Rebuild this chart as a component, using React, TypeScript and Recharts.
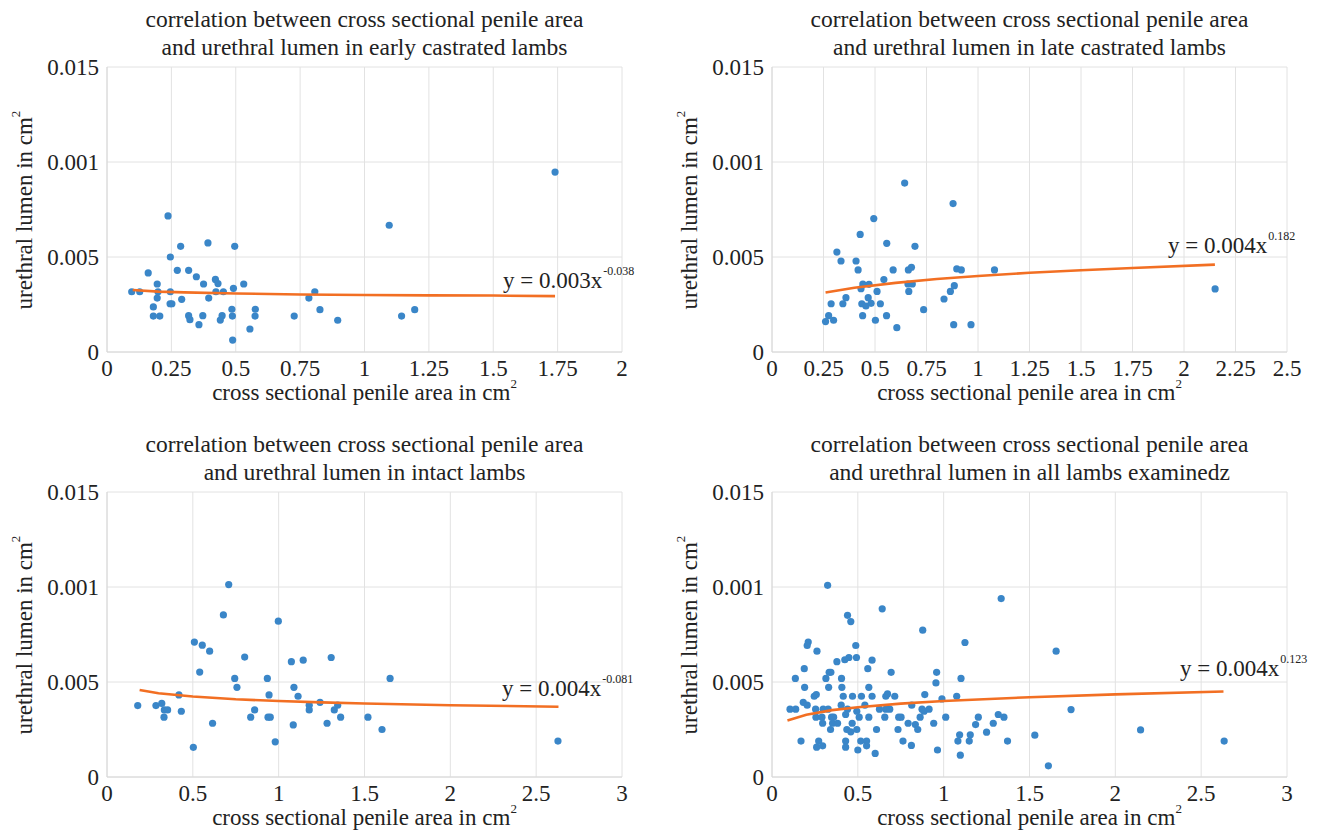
import { ScatterChart, Scatter, XAxis, YAxis, CartesianGrid } from "recharts";

const FONT = "'Liberation Serif', 'Times New Roman', Times, serif";
const DOT = "#3a86c8";
const TREND = "#f26f23";
const GRID = "#e2e2e2";

const yTicks = [0, 0.005, 0.01, 0.015];
const yTickLabels = ["0", "0.005", "0.001", "0.015"];
const xTicks2 = [0, 0.25, 0.5, 0.75, 1, 1.25, 1.5, 1.75, 2];
const xTicks25 = [0, 0.25, 0.5, 0.75, 1, 1.25, 1.5, 1.75, 2, 2.25, 2.5];
const xTicks3 = [0, 0.5, 1, 1.5, 2, 2.5, 3];

// [cross sectional penile area, urethral lumen]
const earlyCastrated: [number, number][] = [
  [0.237, 0.00716], [0.286, 0.00556], [0.392, 0.00574], [0.496, 0.00556], [0.246, 0.005],
  [0.16, 0.00416], [0.273, 0.0043], [0.317, 0.0043], [0.347, 0.00396], [0.421, 0.00382],
  [0.431, 0.0036], [0.375, 0.00358], [0.195, 0.00358], [0.531, 0.00358], [0.096, 0.00317],
  [0.127, 0.00317], [0.198, 0.00317], [0.246, 0.00317], [0.423, 0.00317], [0.452, 0.00317],
  [0.491, 0.00335], [0.195, 0.00284], [0.29, 0.00277], [0.395, 0.00284], [0.245, 0.00254],
  [0.252, 0.00254], [0.18, 0.00237], [0.485, 0.00225], [0.576, 0.00225], [0.18, 0.00189],
  [0.205, 0.00189], [0.317, 0.00191], [0.322, 0.0017], [0.372, 0.00191], [0.447, 0.00191],
  [0.44, 0.00168], [0.487, 0.00189], [0.575, 0.00189], [0.357, 0.00144], [0.555, 0.00121],
  [0.488, 0.00063], [1.096, 0.00667], [0.807, 0.00317], [0.784, 0.00284], [0.827, 0.00223],
  [0.727, 0.00189], [0.896, 0.00167], [1.144, 0.00189], [1.195, 0.00223], [1.74, 0.00947],
];
const earlyTrend: [number, number][] = [
  [0.1, 0.00326], [0.2, 0.00318], [0.3, 0.00314], [0.5, 0.00308], [0.75, 0.00303],
  [1, 0.003], [1.25, 0.00298], [1.5, 0.00297], [1.74, 0.00294],
];

const lateCastrated: [number, number][] = [
  [0.644, 0.00889], [0.494, 0.00702], [0.428, 0.00619], [0.557, 0.00572], [0.694, 0.00556],
  [0.315, 0.00526], [0.335, 0.00479], [0.408, 0.00479], [0.418, 0.00432], [0.588, 0.00432],
  [0.662, 0.00432], [0.677, 0.00446], [0.543, 0.00381], [0.441, 0.00358], [0.471, 0.00356],
  [0.432, 0.00333], [0.66, 0.00358], [0.681, 0.00358], [0.51, 0.00319], [0.664, 0.00319],
  [0.359, 0.00286], [0.467, 0.00286], [0.287, 0.00254], [0.344, 0.00254], [0.436, 0.00254],
  [0.456, 0.00242], [0.481, 0.00256], [0.526, 0.00254], [0.275, 0.00191], [0.44, 0.00191],
  [0.556, 0.00191], [0.26, 0.0016], [0.299, 0.00167], [0.502, 0.00167], [0.736, 0.00223],
  [0.606, 0.00128], [0.879, 0.00781], [0.897, 0.00437], [0.919, 0.00432], [1.08, 0.00432],
  [0.885, 0.00349], [0.866, 0.00319], [0.835, 0.00279], [0.882, 0.00144], [0.966, 0.00144],
  [2.151, 0.00332],
];
const lateTrend: [number, number][] = [
  [0.26, 0.00313], [0.4, 0.00338], [0.6, 0.00364], [0.8, 0.00384], [1, 0.004],
  [1.25, 0.00417], [1.5, 0.0043], [1.75, 0.00442], [2.15, 0.0046],
];

const intact: [number, number][] = [
  [0.709, 0.01013], [0.678, 0.00853], [0.998, 0.0082], [0.509, 0.0071], [0.555, 0.00694],
  [0.598, 0.00662], [0.802, 0.00631], [0.54, 0.00552], [0.744, 0.00519], [0.934, 0.00519],
  [0.757, 0.00472], [0.419, 0.00432], [0.944, 0.00432], [0.179, 0.00376], [0.285, 0.00376],
  [0.319, 0.00387], [0.334, 0.00353], [0.353, 0.00353], [0.433, 0.00346], [0.332, 0.00315],
  [0.86, 0.00353], [0.837, 0.00315], [0.938, 0.00315], [0.951, 0.00315], [0.615, 0.00283],
  [0.503, 0.00156], [0.98, 0.00185], [1.074, 0.00607], [1.143, 0.00615], [1.306, 0.00629],
  [1.649, 0.00519], [1.089, 0.00472], [1.113, 0.00425], [1.241, 0.00393], [1.178, 0.00378],
  [1.178, 0.00353], [1.344, 0.00378], [1.324, 0.00353], [1.361, 0.00315], [1.52, 0.00315],
  [1.085, 0.00274], [1.282, 0.00283], [1.602, 0.0025], [2.627, 0.00189],
];
const intactTrend: [number, number][] = [
  [0.19, 0.00458], [0.3, 0.00441], [0.5, 0.00424], [0.75, 0.00409], [1, 0.004],
  [1.25, 0.00393], [1.5, 0.00387], [2, 0.00378], [2.63, 0.0037],
];

const allLambs: [number, number][] = [
  [0.324, 0.01009], [0.642, 0.00885], [0.44, 0.00851], [0.459, 0.00818], [0.211, 0.0071],
  [0.205, 0.00692], [0.488, 0.00692], [0.262, 0.00662], [0.448, 0.00629], [0.424, 0.00617],
  [0.492, 0.00629], [0.583, 0.00615], [0.378, 0.00607], [0.558, 0.0057], [0.188, 0.0057],
  [0.333, 0.00551], [0.343, 0.00551], [0.694, 0.00551], [0.136, 0.00519], [0.314, 0.00519],
  [0.405, 0.00519], [0.19, 0.00472], [0.33, 0.00472], [0.407, 0.00472], [0.564, 0.00472],
  [0.246, 0.00425], [0.258, 0.00434], [0.415, 0.00425], [0.469, 0.00425], [0.521, 0.00425],
  [0.583, 0.00425], [0.663, 0.00425], [0.673, 0.00437], [0.715, 0.00425], [0.182, 0.00393],
  [0.205, 0.00378], [0.403, 0.00378], [0.541, 0.00378], [0.105, 0.00357], [0.138, 0.00357],
  [0.254, 0.00357], [0.298, 0.00357], [0.327, 0.00357], [0.44, 0.00357], [0.494, 0.00346],
  [0.626, 0.00357], [0.663, 0.00357], [0.686, 0.00357], [0.429, 0.00329], [0.256, 0.00315],
  [0.291, 0.00315], [0.347, 0.00315], [0.359, 0.00315], [0.508, 0.00315], [0.564, 0.00315],
  [0.657, 0.00315], [0.738, 0.00315], [0.295, 0.00283], [0.353, 0.00283], [0.382, 0.00283],
  [0.467, 0.00283], [0.341, 0.0025], [0.436, 0.0025], [0.459, 0.00238], [0.494, 0.0025],
  [0.609, 0.0025], [0.734, 0.0025], [0.169, 0.00189], [0.272, 0.00189], [0.429, 0.00189],
  [0.517, 0.00189], [0.551, 0.00189], [0.763, 0.00189], [0.26, 0.00157], [0.295, 0.00164],
  [0.429, 0.00157], [0.551, 0.00164], [0.5, 0.00142], [0.601, 0.00124], [1.335, 0.00939],
  [0.878, 0.00773], [1.124, 0.00708], [0.959, 0.00551], [0.955, 0.00495], [1.101, 0.00519],
  [0.89, 0.00434], [1.076, 0.00425], [0.99, 0.00411], [0.814, 0.00378], [0.874, 0.00357],
  [0.886, 0.00346], [0.915, 0.00357], [0.752, 0.00315], [0.863, 0.00315], [1.012, 0.00315],
  [1.202, 0.00315], [1.318, 0.00329], [1.351, 0.00315], [0.793, 0.00283], [0.835, 0.00276],
  [0.942, 0.00283], [1.186, 0.00276], [1.289, 0.00283], [0.849, 0.0025], [1.25, 0.00236],
  [1.093, 0.00222], [1.155, 0.00222], [1.083, 0.00189], [1.149, 0.00189], [1.372, 0.00189],
  [0.812, 0.00166], [0.964, 0.00142], [1.097, 0.00115], [1.655, 0.00662], [1.742, 0.00355],
  [1.531, 0.0022], [1.61, 0.00059], [2.147, 0.00248], [2.634, 0.00189],
];
const allTrend: [number, number][] = [
  [0.09, 0.00297], [0.2, 0.00328], [0.35, 0.00352], [0.5, 0.00367], [0.75, 0.00386],
  [1, 0.004], [1.5, 0.0042], [2, 0.00435], [2.63, 0.0045],
];

const toRows = (pairs: [number, number][]) => pairs.map(([x, y]) => ({ x, y }));

const Dot = (p: any) => <circle cx={p.cx} cy={p.cy} r={3.6} fill={DOT} />;
const NoDot = () => <g />;

const tickStyle = { fill: "#222", fontSize: 23, fontFamily: FONT };

function Panel({ left, top, title, points, trend, xMax, xTicks, coef, exp, eqX, eqBase }: any) {
  return (
    <div style={{ position: "absolute", left, top, width: 660, height: 415 }}>
      <div
        style={{
          position: "absolute", left: 57, width: 615, top: 5, textAlign: "center",
          fontSize: 23.5, lineHeight: "28px", color: "#222", whiteSpace: "nowrap",
        }}
      >
        correlation between cross sectional penile area
        <br />
        {title}
      </div>
      <ScatterChart width={660} height={415} margin={{ top: 67, right: 38, left: 37, bottom: 33 }}>
        <CartesianGrid stroke={GRID} />
        <XAxis
          type="number"
          dataKey="x"
          domain={[0, xMax]}
          ticks={xTicks}
          interval={0}
          height={30}
          tickLine={false}
          axisLine={{ stroke: "#d8d8d8" }}
          tick={tickStyle}
          tickFormatter={(v) => String(v)}
        />
        <YAxis
          type="number"
          dataKey="y"
          domain={[0, 0.015]}
          ticks={yTicks}
          interval={0}
          width={70}
          tickLine={false}
          axisLine={{ stroke: "#d8d8d8" }}
          tick={tickStyle}
          tickFormatter={(v) => yTickLabels[yTicks.indexOf(v as number)]}
        />
        <Scatter data={toRows(points)} shape={Dot} isAnimationActive={false} />
        <Scatter
          data={toRows(trend)}
          line={{ stroke: TREND, strokeWidth: 2.6 }}
          lineType="joint"
          shape={NoDot}
          isAnimationActive={false}
        />
      </ScatterChart>
      <div
        style={{
          position: "absolute", left: eqX, top: eqBase - 19, fontSize: 23, lineHeight: "23px",
          color: "#222", whiteSpace: "nowrap",
        }}
      >
        y = {coef}x
        <span style={{ position: "relative", top: -13, fontSize: 12, marginLeft: 1 }}>{exp}</span>
      </div>
      <div
        style={{
          position: "absolute", left: 107, width: 515, top: 381, textAlign: "center",
          fontSize: 23, lineHeight: "23px", color: "#222", whiteSpace: "nowrap",
        }}
      >
        cross sectional penile area in cm
        <span style={{ position: "relative", top: -12, fontSize: 13 }}>2</span>
      </div>
      <div
        style={{
          position: "absolute", left: 26, top: 210, fontSize: 23, lineHeight: "23px", color: "#222",
          whiteSpace: "nowrap", transform: "translate(-50%, -50%) rotate(-90deg)",
        }}
      >
        urethral lumen in cm
        <span style={{ position: "relative", top: -12, fontSize: 13 }}>2</span>
      </div>
    </div>
  );
}

export default function App() {
  return (
    <div
      style={{
        position: "absolute", left: 0, top: 0, width: 1320, height: 830, background: "#fff",
        fontFamily: FONT,
      }}
    >
      <Panel
        left={0} top={0} title="and urethral lumen in early castrated lambs"
        points={earlyCastrated} trend={earlyTrend} xMax={2} xTicks={xTicks2}
        coef="0.003" exp="-0.038" eqX={503} eqBase={288}
      />
      <Panel
        left={665} top={0} title="and urethral lumen in late castrated lambs"
        points={lateCastrated} trend={lateTrend} xMax={2.5} xTicks={xTicks25}
        coef="0.004" exp="0.182" eqX={503} eqBase={253}
      />
      <Panel
        left={0} top={425} title="and urethral lumen in intact lambs"
        points={intact} trend={intactTrend} xMax={3} xTicks={xTicks3}
        coef="0.004" exp="-0.081" eqX={502} eqBase={271}
      />
      <Panel
        left={665} top={425} title="and urethral lumen in all lambs examinedz"
        points={allLambs} trend={allTrend} xMax={3} xTicks={xTicks3}
        coef="0.004" exp="0.123" eqX={515} eqBase={251}
      />
    </div>
  );
}
